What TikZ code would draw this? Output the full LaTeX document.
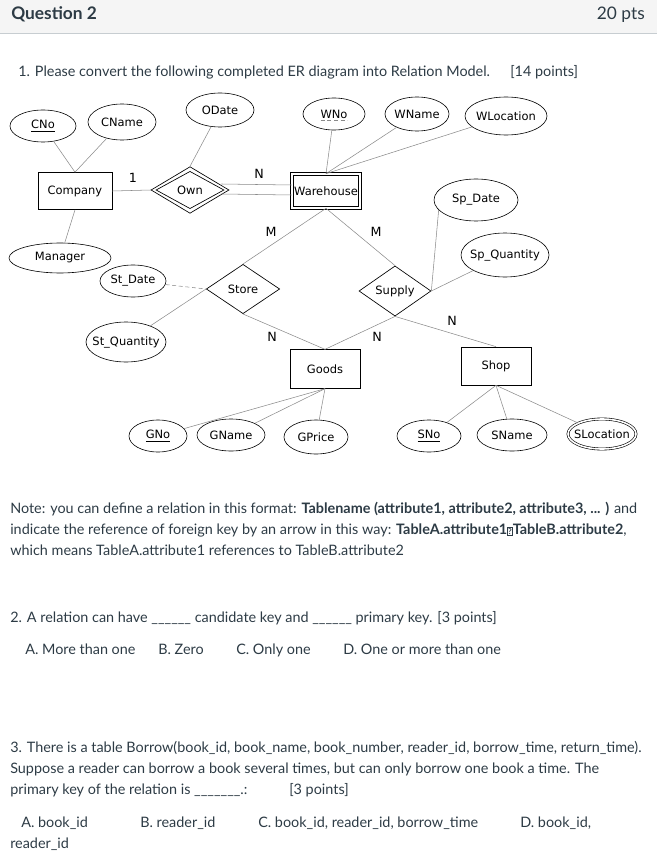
\documentclass[tikz,border=0pt]{standalone}
\usepackage{fontspec}
\setmainfont{Lato}
\newfontfamily\erfont{DejaVu Sans}
\usepackage{tikz}
\usetikzlibrary{shapes.geometric,positioning,calc}
\definecolor{coltext}{HTML}{2D3B45}
\definecolor{colhead}{HTML}{F5F5F5}
\definecolor{colrule}{HTML}{C7CDD1}
\definecolor{collink}{HTML}{8A8A8A}
\newcommand{\qbox}{{\setlength{\fboxsep}{0.4pt}\setlength{\fboxrule}{0.3pt}\fbox{\fontsize{6}{6}\selectfont ?}}}

\begin{document}
\begin{tikzpicture}[
  x=0.75pt, y=-0.75pt,
  txt/.style={anchor=base west, inner sep=0pt, text=coltext, font=\fontsize{10.8}{12}\selectfont},
  ent/.style={draw, rectangle, inner sep=0pt, font=\erfont\fontsize{8.6}{10}\selectfont, line width=0.5pt},
  rel/.style={draw, diamond, inner sep=0pt, font=\erfont\fontsize{8.6}{10}\selectfont, line width=0.5pt},
  attr/.style={draw, ellipse, inner xsep=-4.5pt, inner ysep=0pt, font=\erfont\fontsize{8.6}{10}\selectfont, line width=0.45pt},
  card/.style={inner sep=0pt, font=\erfont\fontsize{9.5}{10}\selectfont},
  link/.style={collink, line width=0.4pt},
]
  \useasboundingbox (0,0) rectangle (657,859);
  % ---- header ----
  \fill[colhead] (0,0) rectangle (657,33);
  \draw[colrule, line width=1pt] (0,33.5) -- (657,33.5);
  \node[txt, font=\bfseries\fontsize{13}{15}\selectfont] (qtitle) at (11,20) {Question 2};
  \node[txt, anchor=base east, font=\fontsize{13}{15}\selectfont] (qpts) at (645,20) {20 pts};
  \node[txt] (q1) at (18,77) {1. Please convert the following completed ER diagram into Relation Model.};
  \node[txt] (q1pts) at (510,77) {[14 points]};

  % ---- entities and relationships ----
  \node[ent, minimum width=55.5pt, minimum height=27.75pt] (company) at (75,191) {Company};
  \node[ent, double, double distance=1.4pt, minimum width=51pt, minimum height=25.5pt] (wh) at (326,191) {Warehouse};
  \node[ent, minimum width=52.5pt, minimum height=29pt] (goods) at (325,369) {Goods};
  \node[ent, minimum width=52.5pt, minimum height=28.5pt] (shop) at (496,366) {Shop};
  \node[rel, minimum width=58.5pt, minimum height=35pt] (own) at (190,190) {};
  \node[rel, minimum width=51pt, minimum height=28pt] (owncore) at (own.center) {Own};
  \node[rel, minimum width=55pt, minimum height=37pt] (store) at (243,289) {Store};
  \node[rel, minimum width=54pt, minimum height=36pt] (supply) at (395,291) {Supply};

  % ---- attributes ----
  \node[attr, minimum width=49.5pt, minimum height=24pt] (cno) at (43,126) {\underline{CNo}};
  \node[attr, minimum width=51pt, minimum height=27pt] (cname) at (122,122) {CName};
  \node[attr, minimum width=51pt, minimum height=25.5pt] (odate) at (220,110) {ODate};
  \node[attr, minimum width=46.5pt, minimum height=24pt] (wno) at (334,114) {WNo};
  \node[attr, minimum width=48pt, minimum height=25.5pt] (wname) at (417,114) {WName};
  \node[attr, minimum width=61.5pt, minimum height=28.5pt] (wloc) at (506,116) {WLocation};
  \node[attr, minimum width=63pt, minimum height=31.5pt] (spdate) at (476,200) {Sp\_Date};
  \node[attr, minimum width=76.5pt, minimum height=22.5pt] (manager) at (60,258) {Manager};
  \node[attr, minimum width=49.5pt, minimum height=24pt] (stdate) at (133,281) {St\_Date};
  \node[attr, minimum width=66pt, minimum height=33pt] (spqty) at (505,255) {Sp\_Quantity};
  \node[attr, minimum width=60pt, minimum height=30pt] (stqty) at (126,342) {St\_Quantity};
  \node[attr, minimum width=43.5pt, minimum height=24pt] (gno) at (158,436) {\underline{GNo}};
  \node[attr, minimum width=51pt, minimum height=24pt] (gname) at (231,435) {GName};
  \node[attr, minimum width=48pt, minimum height=25.5pt] (gprice) at (316,437) {GPrice};
  \node[attr, minimum width=48pt, minimum height=24pt] (sno) at (429,436) {\underline{SNo}};
  \node[attr, minimum width=52.5pt, minimum height=24pt] (sname) at (512,435) {SName};
  \node[attr, double, double distance=1.2pt, minimum width=51pt, minimum height=22.5pt] (sloc) at (602,434) {SLocation};
  \draw[collink, densely dashed, line width=0.4pt] ([xshift=-10pt,yshift=-5pt]wno.center) -- ([xshift=10pt,yshift=-5pt]wno.center);

  % ---- connectors ----
  \draw[link] (cno) -- (company.north);
  \draw[link] (cname) -- (company.north);
  \draw[link] (company.south) -- (manager);
  \draw[link] (odate) -- (own.north);
  \draw[link] (wno) -- (wh.north);
  \draw[link] (wname) -- (wh.north);
  \draw[link] (wloc) -- (wh.north);
  \draw[link] (company.east) -- (own.west);
  \draw[link] ([xshift=-6pt,yshift=4.5pt]own.east) -- ([yshift=4.5pt]wh.west);
  \draw[link] ([xshift=-6pt,yshift=-3pt]own.east) -- ([yshift=-3pt]wh.west);
  \draw[link] (wh.south) -- (store.north);
  \draw[link] (wh.south) -- (supply.north);
  \draw[link, densely dashed] (stdate) -- (store.west);
  \draw[link] (stqty) -- (store.west);
  \draw[link] (store.south) -- (goods.north);
  \draw[link] (supply.south) -- (goods.north);
  \draw[link] (supply.south) -- (shop.north);
  \draw[link] (supply.east) -- (spdate.195);
  \draw[link] (supply.east) -- (spqty);
  \draw[link] (goods.south) -- (gno);
  \draw[link] (goods.south) -- (gname);
  \draw[link] (goods.south) -- (gprice);
  \draw[link] (shop.south) -- (sno);
  \draw[link] (shop.south) -- (sname);
  \draw[link] (shop.south) -- (sloc);

  % ---- cardinalities ----
  \node[card] (c1) at (133,178) {1};
  \node[card] (c2) at (259,174) {N};
  \node[card] (c3) at (271,232) {M};
  \node[card] (c4) at (376,232) {M};
  \node[card] (c5) at (272,337) {N};
  \node[card] (c6) at (377,337) {N};
  \node[card] (c7) at (452,321) {N};

  % ---- note ----
  \node[txt] (n1) at (10,513) {Note: you can define a relation in this format: \textbf{Tablename (attribute1, attribute2, attribute3, ... )} and};
  \node[txt] (n2) at (10,534) {indicate the reference of foreign key by an arrow in this way: \textbf{TableA.attribute1\qbox TableB.attribute2},};
  \node[txt] (n3) at (10,555) {which means TableA.attribute1 references to TableB.attribute2};

  % ---- question 2 ----
  \node[txt] (q2) at (10,622) {2. A relation can have \_\_\_\_\_\_ candidate key and \_\_\_\_\_\_ primary key. [3 points]};
  \node[txt] (q2a) at (25,654) {A. More than one};
  \node[txt] (q2b) at (158,654) {B. Zero};
  \node[txt] (q2c) at (236,654) {C. Only one};
  \node[txt] (q2d) at (343,654) {D. One or more than one};

  % ---- question 3 ----
  \node[txt] (q3l1) at (10,752) {3. There is a table Borrow(book\_id, book\_name, book\_number, reader\_id, borrow\_time, return\_time).};
  \node[txt] (q3l2) at (10,773) {Suppose a reader can borrow a book several times, but can only borrow one book a time. The};
  \node[txt] (q3l3) at (10,794) {primary key of the relation is \_\_\_\_\_\_\_.:};
  \node[txt] (q3pts) at (289,794) {[3 points]};
  \node[txt] (q3a) at (21,827) {A. book\_id};
  \node[txt] (q3b) at (140,827) {B. reader\_id};
  \node[txt] (q3c) at (258,827) {C. book\_id, reader\_id, borrow\_time};
  \node[txt] (q3d) at (520,827) {D. book\_id,};
  \node[txt] (q3e) at (10,848) {reader\_id};
\end{tikzpicture}
\end{document}
